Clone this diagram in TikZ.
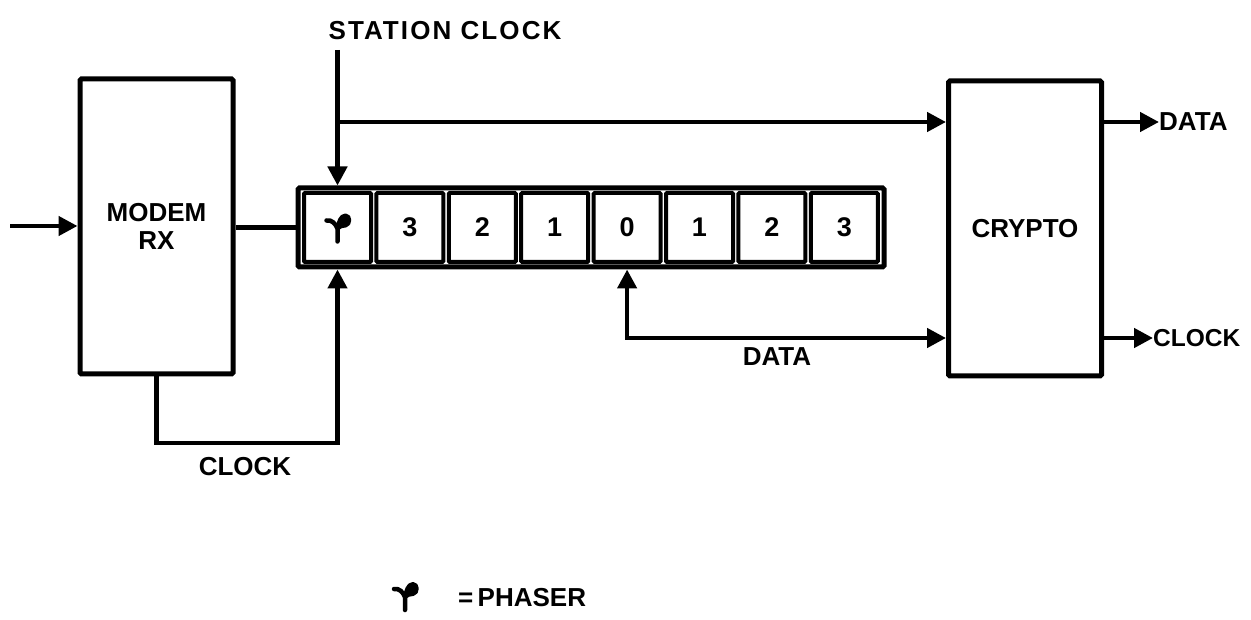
\documentclass[tikz,border=0pt]{standalone}
\usepackage{fontspec}
\setmainfont{Liberation Sans}[BoldFont={* Bold}]
\newfontfamily\lsp{Liberation Sans}[BoldFont={* Bold},LetterSpace=8]
\usetikzlibrary{arrows.meta,calc}
\tikzset{
  lbl/.style={font=\fontsize{26}{28}\selectfont\bfseries, inner sep=0pt},
  blk/.style={draw, line width=5pt, rounded corners=1.5pt, minimum width=153pt, minimum height=295pt, font=\fontsize{26}{29}\selectfont\bfseries, align=center},
  frm/.style={draw, line width=5pt, rounded corners=1.5pt, minimum width=586pt, minimum height=79pt, inner sep=0pt},
  cell/.style={draw, line width=4pt, rounded corners=1pt, minimum width=67pt, minimum height=69pt, inner sep=0pt, font=\fontsize{27}{29}\selectfont\bfseries},
  wire/.style={line width=4.5pt},
  arr/.style={line width=4.5pt, -{Triangle[length=19pt,width=19pt]}},
  arrb/.style={line width=4.5pt, {Triangle[length=19pt,width=19pt]}-{Triangle[length=19pt,width=19pt]}},
  phaser/.pic={
    \draw[line width=4.5pt, line cap=round, line join=round]
      (0,13) -- (0,0) .. controls (-2,-5) and (-6,-9) .. (-11,-8);
    \draw[line width=4pt, line cap=round, line join=round, fill]
      (0,0) .. controls (1,-6) and (3,-13) .. (8,-13)
      .. controls (13,-13) and (13,-4) .. (8,-3)
      .. controls (5,-3) and (2,-2) .. (0,0);
  }
}
\begin{document}
\begin{tikzpicture}[x=1pt, y=-1pt]
\useasboundingbox (0,0) rectangle (1251,620);

% blocks
\node[blk] (modem) at (156.5,226.5) {MODEM\\[-1pt]RX};
\node[blk] (crypto) at (1025,228.5) {CRYPTO};

% shift register
\node[frm] (frame) at (591,227.5) {};
\node[cell] (c1) at (337.5,227.5) {};
\pic at ($(c1.center)+(0,1)$) {phaser};
\node[cell] (c2) at (409.9,227.5) {3};
\node[cell] (c3) at (482.3,227.5) {2};
\node[cell] (c4) at (554.7,227.5) {1};
\node[cell] (c5) at (627.1,227.5) {0};
\node[cell] (c6) at (699.5,227.5) {1};
\node[cell] (c7) at (771.9,227.5) {2};
\node[cell] (c8) at (844.3,227.5) {3};

% labels
\node[lbl, font=\lsp\fontsize{26}{28}\selectfont\bfseries] (stclk) at (445,31) {STATION CLOCK};
\node[lbl] (clklbl) at (245,467) {CLOCK};
\node[lbl] (datalbl) at (777,357) {DATA};
\node[lbl, anchor=west] (dout) at (1159,122) {DATA};
\node[lbl, anchor=west, font=\fontsize{24.5}{27}\selectfont\bfseries] (cout) at (1153,338) {CLOCK};

% coordinates
\coordinate (in) at (10,226);
\coordinate (sctop) at (337.5,50);
\coordinate (scj) at (337.5,122);
\coordinate (ckb) at (337.5,443);
\coordinate (dy) at (0,338);

% connectors
\draw[arr] (in) -- (in -| modem.west);
\draw[wire] (modem.east |- frame.west) -- (frame.west);
\draw[arr] (sctop) -- (c1 |- frame.north);
\draw[arr] (scj) -- (scj -| crypto.west);
\draw[arr] (modem.south) |- (ckb) -- (c1 |- frame.south);
\draw[arrb] (c5 |- frame.south) |- (dy -| crypto.west);
\draw[arr] (crypto.east |- dout) -- (dout.west);
\draw[arr] (crypto.east |- cout) -- (cout.west);

% legend
\pic at (405,597) {phaser};
\node[lbl, anchor=west] (legend) at (458,598) {=\,PHASER};
\end{tikzpicture}
\end{document}
